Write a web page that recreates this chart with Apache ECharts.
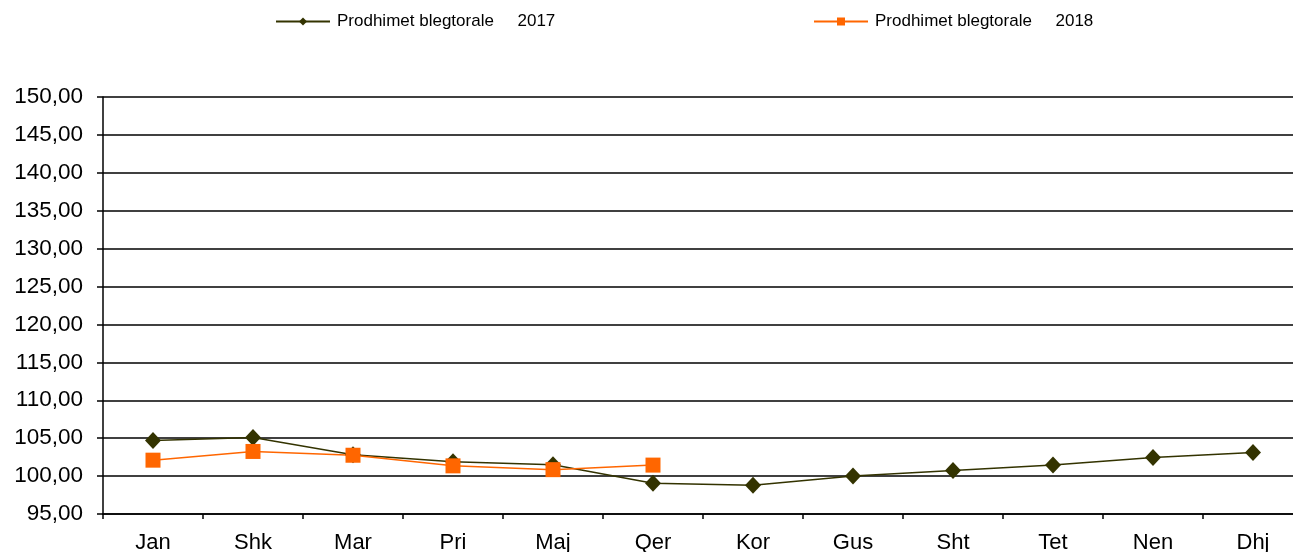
<!DOCTYPE html>
<html><head><meta charset="utf-8">
<script src="https://cdn.jsdelivr.net/npm/echarts@6/dist/echarts.min.js"></script>
<style>html,body{margin:0;padding:0;background:#fff}#c{width:1293px;height:552px}</style>
</head><body><div id="c"></div>
<script>
const categories = ['Jan','Shk','Mar','Pri','Maj','Qer','Kor','Gus','Sht','Tet','Nen','Dhj'];
const series2017 = [104.7, 105.1, 102.8, 101.9, 101.5, 99.05, 98.8, 100.0, 100.75, 101.45, 102.45, 103.1];
const series2018 = [102.1, 103.25, 102.75, 101.35, 100.85, 101.45];
const name2017 = 'Prodhimet blegtorale     2017';
const name2018 = 'Prodhimet blegtorale     2018';
const yMin = 95, yMax = 150, yStep = 5;

const chart = echarts.init(document.getElementById('c'));
const font = 'Liberation Sans, Arial, sans-serif';
chart.setOption({
  animation: false,
  backgroundColor: '#fff',
  legend: [
    {data:[name2017], left: 275, top: 13, padding: 0, itemWidth: 54, itemHeight: 10, itemGap: 4,
     textStyle:{fontFamily: font, fontSize: 17, color:'#000', padding:[0,0,0,2]}},
    {data:[name2018], left: 813, top: 13, padding: 0, itemWidth: 54, itemHeight: 10, itemGap: 4,
     textStyle:{fontFamily: font, fontSize: 17, color:'#000', padding:[0,0,0,2]}}
  ],
  grid: {left: 103, top: 97, bottom: 38, width: 1200, containLabel: false, outerBoundsMode: 'none'},
  xAxis: {
    type: 'category', data: categories, boundaryGap: true,
    axisLine: {lineStyle: {color: '#000', width: 1.5}},
    axisTick: {show: true, length: 5, lineStyle: {color: '#000', width: 1.5}},
    axisLabel: {fontFamily: font, fontSize: 22, color: '#000', margin: 18}
  },
  yAxis: {
    type: 'value', min: yMin, max: yMax, interval: yStep,
    axisLine: {show: true, lineStyle: {color: '#000', width: 1.5}},
    axisTick: {show: true, length: 6, lineStyle: {color: '#000', width: 1.5}},
    splitLine: {lineStyle: {color: '#000', width: 1.5}},
    axisLabel: {fontFamily: font, fontSize: 22.5, color: '#000', margin: 20,
      formatter: v => v.toFixed(2).replace('.', ',')}
  },
  series: [
    {name: name2017, type: 'line', data: series2017, symbol: 'diamond', symbolSize: [16, 17],
     lineStyle: {color: '#333300', width: 1.5}, itemStyle: {color: '#333300'}},
    {name: name2018, type: 'line', data: series2018, symbol: 'rect', symbolSize: 15,
     lineStyle: {color: '#ff6600', width: 1.5}, itemStyle: {color: '#ff6600'}}
  ]
});
</script></body></html>
